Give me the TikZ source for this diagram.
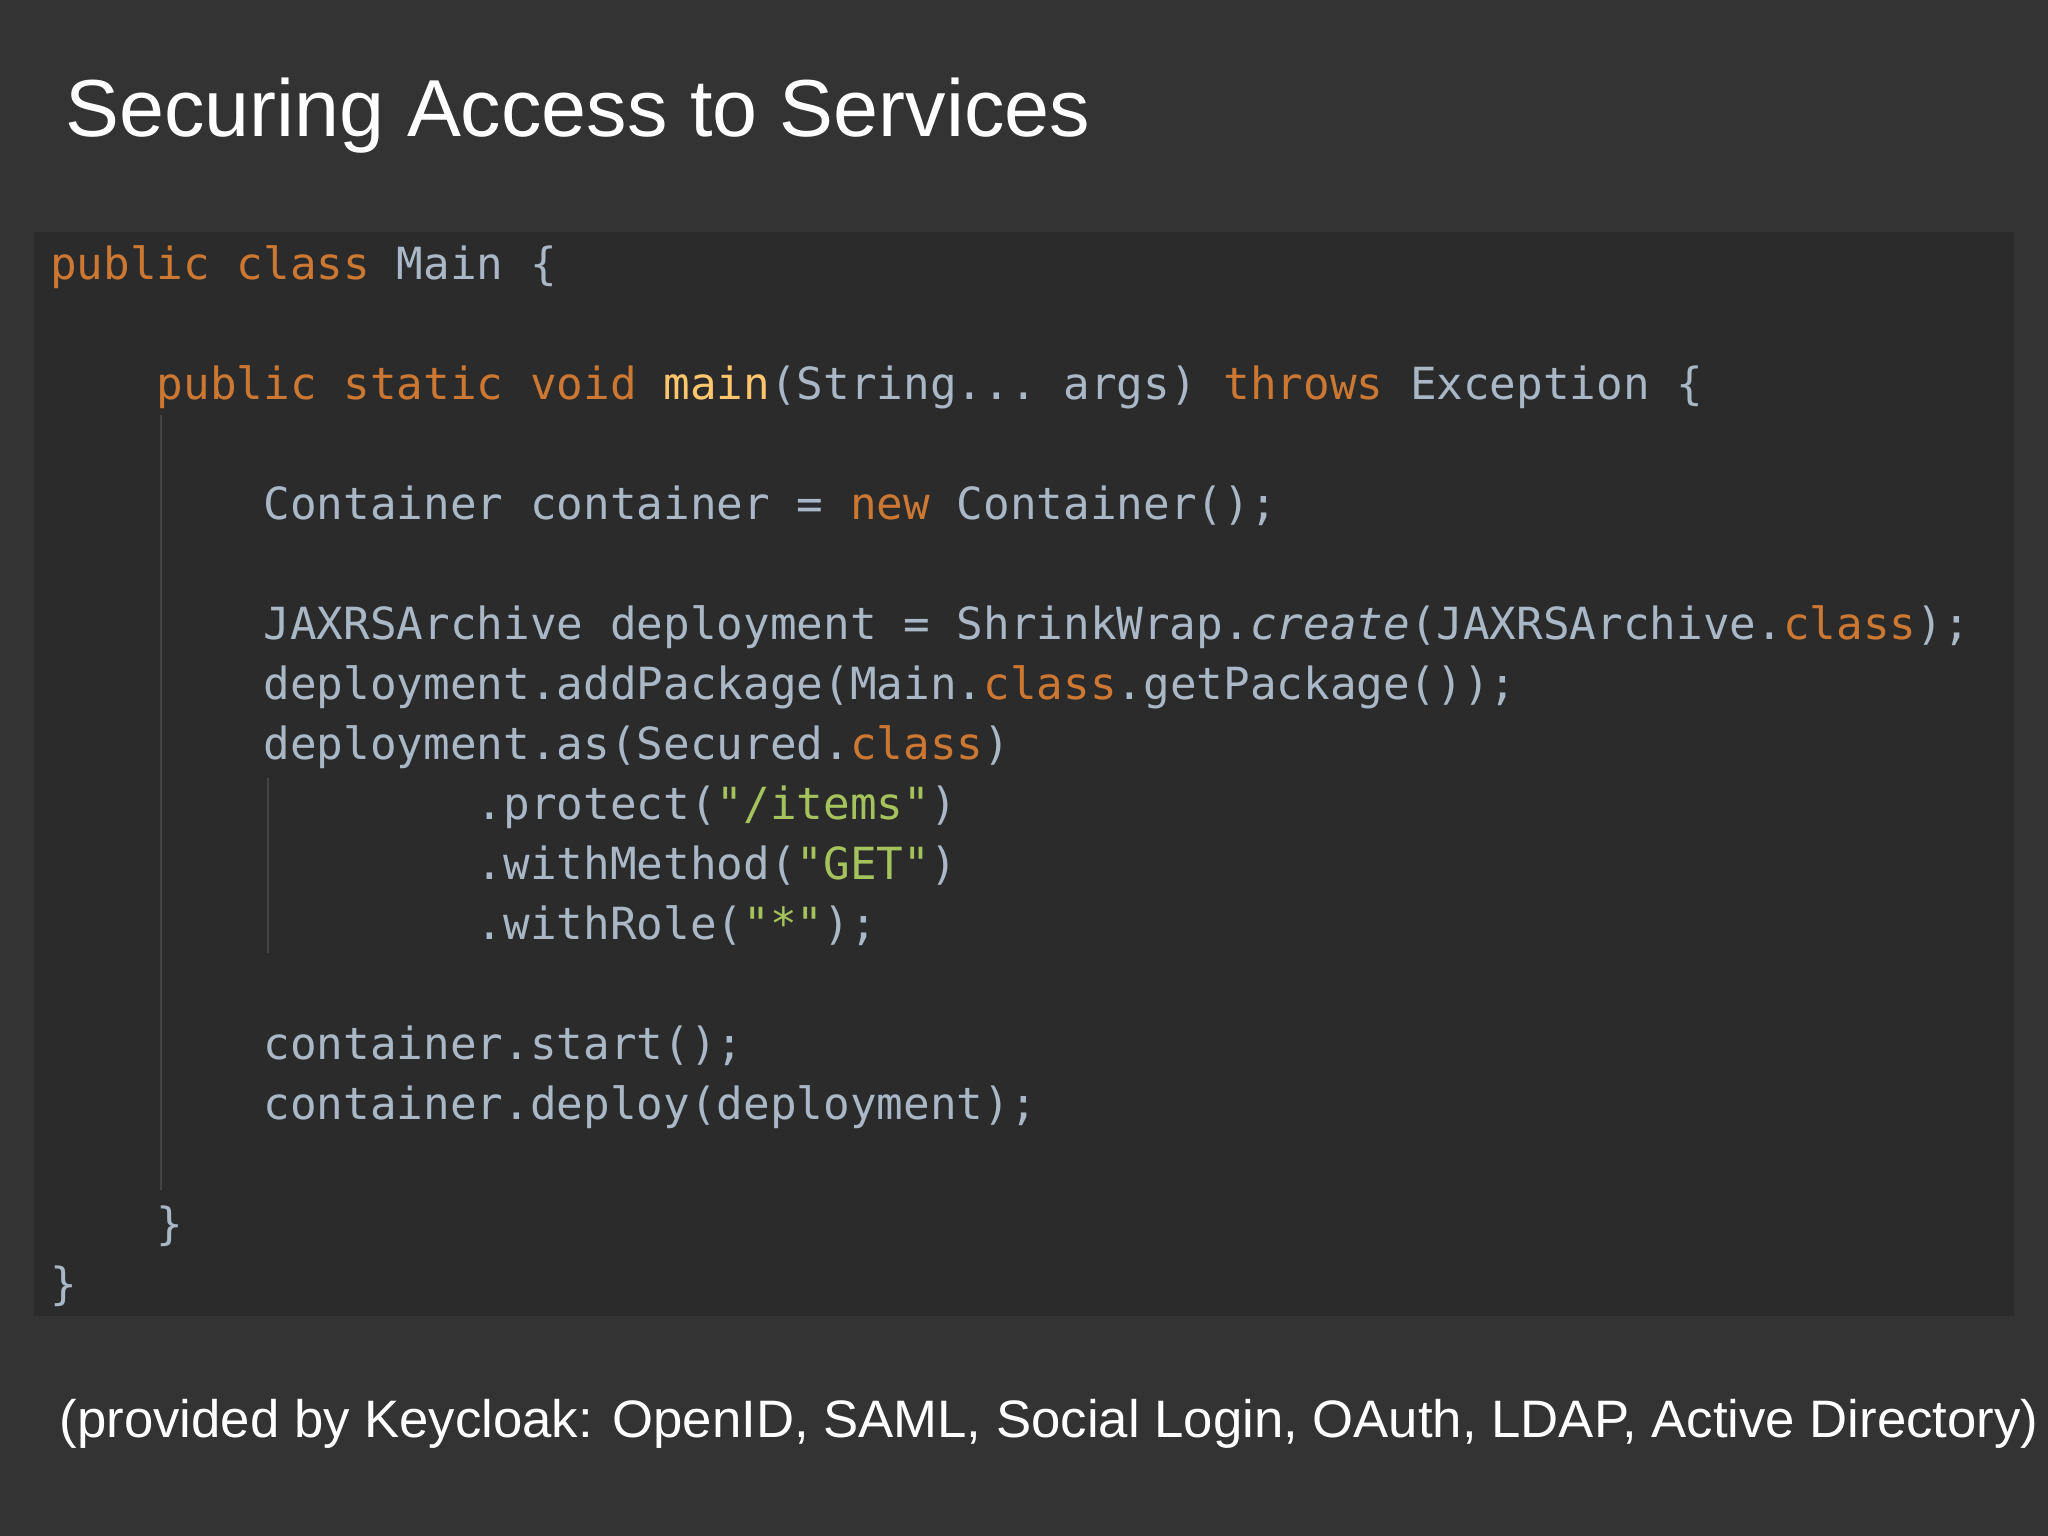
\documentclass[tikz,border=0pt]{standalone}
\usepackage{fontspec}
\setmainfont{Liberation Sans}
\setsansfont{Liberation Sans}
\setmonofont{DejaVu Sans Mono}
\definecolor{bg}{HTML}{333333}
\definecolor{panel}{HTML}{2B2B2B}
\definecolor{kw}{HTML}{CC7832}
\definecolor{tx}{HTML}{A9B7C6}
\definecolor{st}{HTML}{A5C25C}
\definecolor{fn}{HTML}{FFC66D}
\definecolor{guide}{HTML}{444444}
\newcommand{\K}[1]{\textcolor{kw}{#1}}
\newcommand{\Sg}[1]{\textcolor{st}{#1}}
\newcommand{\F}[1]{\textcolor{fn}{#1}}
\tikzset{code/.style={anchor=base west,inner sep=0pt,text=tx,font=\ttfamily\fontsize{12.6pt}{14pt}\selectfont}}
\newcommand{\codeln}[4]{\node[code] (#1) at ({0.496+#2*0.2666},{-(2.795+#3*0.60)}) {#4};}
\begin{document}
\begin{tikzpicture}
\useasboundingbox (0,0) rectangle (20.48,-15.36);
\fill[bg] (0,0) rectangle (20.48,-15.36);
\fill[panel] (0.34,-2.32) rectangle (20.14,-13.16);
\node[anchor=base west,inner sep=0pt,text=white,font=\fontsize{23pt}{28pt}\selectfont] (title) at (0.65,-1.37) {Securing Access to Services};
\draw[guide,line width=0.8pt] (1.61,-4.15) -- (1.61,-11.9);
\draw[guide,line width=0.8pt] (2.68,-7.78) -- (2.68,-9.53);
\codeln{l0}{0}{0}{\K{public class} Main \{}
\codeln{l2}{4}{2}{\K{public static void} \F{main}(String... args) \K{throws} Exception \{}
\codeln{l4}{8}{4}{Container container = \K{new} Container();}
\codeln{l6}{8}{6}{JAXRSArchive deployment = ShrinkWrap.\textit{create}(JAXRSArchive.\K{class});}
\codeln{l7}{8}{7}{deployment.addPackage(Main.\K{class}.getPackage());}
\codeln{l8}{8}{8}{deployment.as(Secured.\K{class})}
\codeln{l9}{16}{9}{.protect(\Sg{"/items"})}
\codeln{l10}{16}{10}{.withMethod(\Sg{"GET"})}
\codeln{l11}{16}{11}{.withRole(\Sg{"*"});}
\codeln{l13}{8}{13}{container.start();}
\codeln{l14}{8}{14}{container.deploy(deployment);}
\codeln{l16}{4}{16}{\}}
\codeln{l17}{0}{17}{\}}
\node[anchor=base west,inner sep=0pt,text=white,font=\fontsize{15pt}{18pt}\selectfont] (foot) at (0.59,-14.37) {(provided by Keycloak: OpenID, SAML, Social Login, OAuth, LDAP, Active Directory)};
\end{tikzpicture}
\end{document}
